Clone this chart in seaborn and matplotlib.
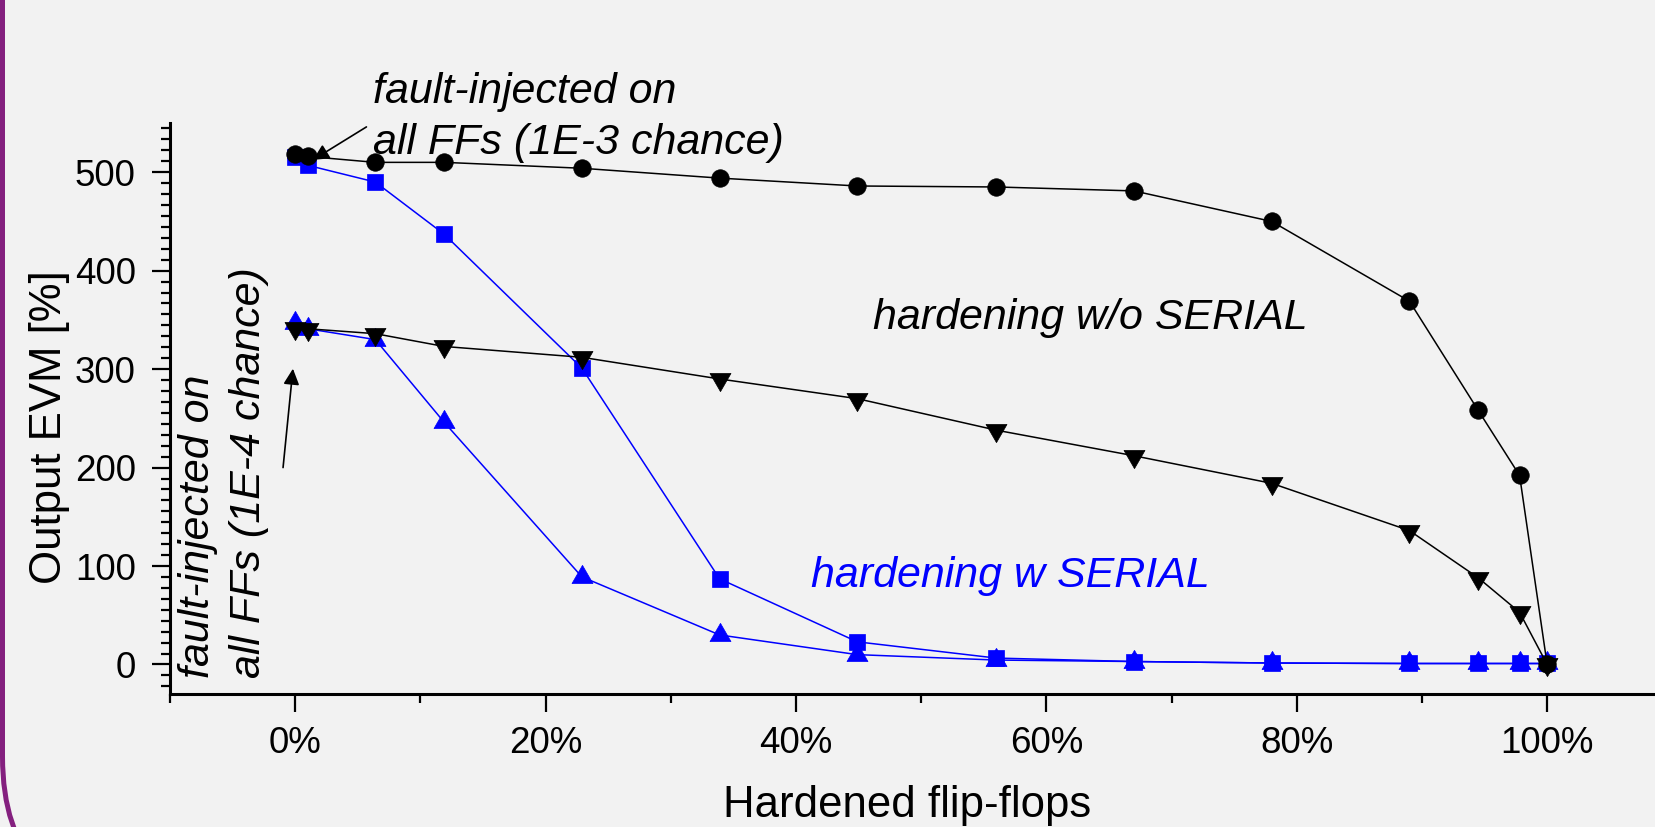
import matplotlib
matplotlib.use("Agg")
import matplotlib.pyplot as plt
import seaborn as sns
import pandas as pd
from matplotlib.ticker import FixedLocator, MultipleLocator, AutoMinorLocator
from matplotlib.patches import FancyBboxPatch
from matplotlib.transforms import IdentityTransform

# ---------------- data ----------------
hardened_pct = [0, 1, 6.4, 11.9, 22.9, 33.9, 44.9, 56.0, 67.0, 78.0, 89.0, 94.5, 97.8, 100]
evm_wo_serial_1e3 = [518, 516, 510, 510, 504, 494, 486, 485, 481, 450, 369, 258, 192, 0]
evm_wo_serial_1e4 = [342, 341, 336, 323, 312, 290, 270, 238, 212, 184, 136, 88, 53, 0]
evm_w_serial_1e3 = [515, 507, 490, 437, 301, 87, 23, 6.5, 3, 1.5, 1, 1, 1, 1]
evm_w_serial_1e4 = [347, 341, 330, 246, 89, 30, 10, 4.5, 3, 1.5, 1, 1, 1, 1]

x_ticks = [0, 20, 40, 60, 80, 100]
x_tick_labels = ["0%", "20%", "40%", "60%", "80%", "100%"]
y_ticks = [0, 100, 200, 300, 400, 500]
y_tick_labels = ["0", "100", "200", "300", "400", "500"]

x_label = "Hardened flip-flops"
y_label = "Output EVM [%]"
note_1e3 = "fault-injected on\nall FFs (1E-3 chance)"
note_1e4 = "fault-injected on\nall FFs (1E-4 chance)"
label_wo = "hardening w/o SERIAL"
label_w = "hardening w SERIAL"

# ---------------- style ----------------
sns.set_theme(style="ticks")
plt.rcParams["font.family"] = ["Liberation Sans", "DejaVu Sans"]
BG = "#f2f2f2"
BLUE = "#0000ff"
BLACK = "#000000"

fig = plt.figure(figsize=(16.56, 8.27), dpi=100, facecolor=BG)
ax = fig.add_axes([0.10266, 0.1608, 0.9072, 0.6905])
ax.set_facecolor(BG)

df = pd.DataFrame({
    "x": hardened_pct,
    "wo3": evm_wo_serial_1e3,
    "wo4": evm_wo_serial_1e4,
    "w3": evm_w_serial_1e3,
    "w4": evm_w_serial_1e4,
})

series = [
    ("w3", BLUE, "s", 11),
    ("w4", BLUE, (3, 0, 0), 17.5),
    ("wo3", BLACK, "o", 12.6),
    ("wo4", BLACK, (3, 0, 180), 17.5),
]
for col, c, m, ms in series:
    sns.lineplot(data=df, x="x", y=col, ax=ax, color=c, marker=m, markersize=ms,
                 markeredgecolor=c, markeredgewidth=0.5, linewidth=1.1,
                 sort=False, estimator=None, legend=False)

ax.set_xlim(-10, 110)
ax.set_ylim(-30, 550)

ax.xaxis.set_major_locator(FixedLocator(x_ticks))
ax.set_xticklabels(x_tick_labels)
ax.xaxis.set_minor_locator(MultipleLocator(10))
ax.yaxis.set_major_locator(FixedLocator(y_ticks))
ax.set_yticklabels(y_tick_labels)
ax.yaxis.set_minor_locator(AutoMinorLocator(9))

for s in ["top", "right"]:
    ax.spines[s].set_visible(False)
for s in ["left", "bottom"]:
    ax.spines[s].set_linewidth(2.2)
    ax.spines[s].set_color(BLACK)

ax.tick_params(axis="both", which="major", direction="out", length=12.7, width=1.6,
               labelsize=26.5, color=BLACK, labelcolor=BLACK)
ax.tick_params(axis="x", which="major", pad=10.5)
ax.tick_params(axis="y", which="major", pad=12)
ax.tick_params(axis="both", which="minor", direction="out", length=6.5, width=1.6,
               color=BLACK)

ax.set_xlabel(x_label, fontsize=31.5, color=BLACK)
ax.set_ylabel(y_label, fontsize=31.5, color=BLACK)
ax.xaxis.set_label_coords(0.4906, -0.2159)
ax.xaxis.label.set_va("baseline")
ax.yaxis.set_label_coords(-0.0665, 0.467)

# annotations
ax.text(6.2, 518.5, note_1e3, fontsize=31, style="italic", color=BLACK,
        ha="left", va="baseline", linespacing=1.36)
ax.text(-9.35, -14.2, note_1e4, fontsize=31, style="italic", color=BLACK,
        rotation=90, ha="left", va="bottom", multialignment="left", linespacing=1.36)
ax.text(46.15, 341, label_wo, fontsize=31, style="italic", color=BLACK,
        ha="left", va="baseline")
ax.text(41.2, 78.3, label_w, fontsize=31, style="italic", color=BLUE,
        ha="left", va="baseline")

arrow_kw = dict(arrowstyle="-|>", mutation_scale=24, lw=1.2, color=BLACK,
                shrinkA=0, shrinkB=0)
ax.annotate("", xy=(1.42, 512.5), xytext=(5.69, 546), arrowprops=arrow_kw)
ax.annotate("", xy=(-0.18, 300.4), xytext=(-0.97, 200), arrowprops=arrow_kw)

# purple rounded frame (only its lower-left part is visible)
frame = FancyBboxPatch((2.5, -79.7), 3000, 2000,
                       boxstyle="round,pad=0,rounding_size=150",
                       transform=IdentityTransform(), fill=False,
                       edgecolor="#84207f", linewidth=3.6, zorder=10)
fig.add_artist(frame)

fig.savefig("out.png", dpi=100, facecolor=BG)
